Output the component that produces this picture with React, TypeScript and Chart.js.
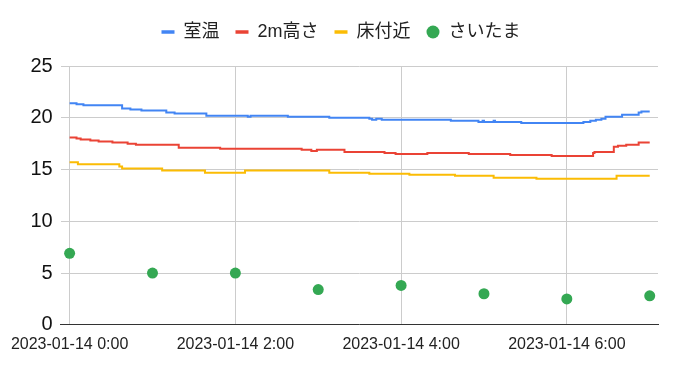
import React, { useEffect, useRef } from "react";
import { Chart, registerables } from "chart.js";

Chart.register(...registerables);

// Minutes after 2023-01-14 0:00 where each step begins, and the value from there on
const roomMin = [0, 5, 10, 38, 44, 52, 70, 76, 99, 129, 131, 158, 188, 217, 219, 222, 226, 276, 296, 299, 300, 307, 308, 327, 372, 377, 381, 385, 388, 400, 412, 414, 420];
const roomVal = [21.4, 21.3, 21.2, 20.9, 20.8, 20.7, 20.5, 20.4, 20.2, 20.1, 20.2, 20.1, 20.0, 19.9, 19.8, 19.9, 19.8, 19.7, 19.6, 19.7, 19.6, 19.7, 19.6, 19.5, 19.6, 19.7, 19.8, 19.9, 20.1, 20.3, 20.5, 20.6, 20.6];

const highMin = [0, 5, 8, 15, 21, 31, 42, 48, 79, 109, 168, 175, 179, 199, 228, 236, 259, 289, 319, 349, 379, 380, 394, 397, 403, 412, 420];
const highVal = [18.1, 18.0, 17.9, 17.8, 17.7, 17.6, 17.5, 17.4, 17.1, 17.0, 16.9, 16.8, 16.9, 16.7, 16.6, 16.5, 16.6, 16.5, 16.4, 16.3, 16.6, 16.7, 17.2, 17.3, 17.4, 17.6, 17.6];

const floorMin = [0, 6, 36, 38, 67, 98, 127, 188, 217, 246, 279, 307, 338, 396, 420];
const floorVal = [15.7, 15.5, 15.3, 15.1, 14.9, 14.7, 14.9, 14.7, 14.6, 14.5, 14.4, 14.2, 14.1, 14.4, 14.4];

const saitamaMin = [0, 60, 120, 180, 240, 300, 360, 420];
const saitamaVal = [6.9, 5.0, 5.0, 3.4, 3.8, 3.0, 2.5, 2.8];

const seriesNames = ["室温", "2m高さ", "床付近", "さいたま"];
const seriesColors = ["#4285F4", "#EA4335", "#FBBC04", "#34A853"];
const xTickMinutes = [0, 120, 240, 360];
const datePrefix = "2023-01-14";
const yTicks = [0, 5, 10, 15, 20, 25];

const FONT = "'Liberation Sans', Arial, 'Noto Sans CJK JP', sans-serif";

const pts = (mins: number[], vals: number[]) => mins.map((m, i) => ({ x: m, y: vals[i] }));

const legendGap = {
  id: "legendGap",
  beforeUpdate(chart: any) {
    const lg = chart.legend;
    if (lg && !lg._gapPatched) {
      const orig = lg.fit;
      lg.fit = function () {
        orig.call(this);
        this.height += 15;
      };
      lg._gapPatched = true;
    }
  },
};

export default function App() {
  const ref = useRef<HTMLCanvasElement | null>(null);

  useEffect(() => {
    document.body.style.margin = "0";
    const canvas = ref.current;
    if (!canvas) return;
    const lineDs = (idx: number, mins: number[], vals: number[]) => ({
      type: "line" as const,
      label: seriesNames[idx],
      data: pts(mins, vals),
      borderColor: seriesColors[idx],
      backgroundColor: seriesColors[idx],
      borderWidth: 2,
      pointRadius: 0,
      stepped: true,
      fill: false,
    });
    const chart = new Chart(canvas, {
      type: "line",
      data: {
        datasets: [
          lineDs(0, roomMin, roomVal),
          lineDs(1, highMin, highVal),
          lineDs(2, floorMin, floorVal),
          {
            type: "line" as const,
            label: seriesNames[3],
            data: pts(saitamaMin, saitamaVal),
            borderColor: seriesColors[3],
            backgroundColor: seriesColors[3],
            showLine: false,
            pointRadius: 5.5,
            pointBorderWidth: 0,
          },
        ],
      },
      plugins: [legendGap],
      options: {
        responsive: false,
        animation: false,
        layout: { padding: { left: 5, top: 7, bottom: 7 } },
        plugins: {
          tooltip: { enabled: false },
          legend: {
            position: "top",
            align: "center",
            labels: {
              usePointStyle: true,
              boxWidth: 13,
              boxHeight: 9.2,
              padding: 16,
              color: "#222",
              font: { family: FONT, size: 18 },
              generateLabels: (ch: any) =>
                ch.data.datasets.map((d: any, i: number) => ({
                  text: d.label,
                  fillStyle: seriesColors[i],
                  strokeStyle: seriesColors[i],
                  lineWidth: i === 3 ? 0 : 3.5,
                  pointStyle: i === 3 ? "circle" : "line",
                  hidden: false,
                  datasetIndex: i,
                  fontColor: "#222",
                })),
            },
          },
        },
        scales: {
          x: {
            type: "linear",
            min: -6.5,
            max: 426,
            afterBuildTicks: (s: any) => {
              s.ticks = xTickMinutes.map((v) => ({ value: v }));
            },
            ticks: {
              color: "#222",
              padding: 10,
              maxRotation: 0,
              autoSkip: false,
              font: { family: FONT, size: 16 },
              callback: (v: any) => `${datePrefix} ${Math.floor(Number(v) / 60)}:00`,
            },
            grid: { color: "#cccccc", drawTicks: false },
            border: { display: true, color: "#333333", width: 1 },
          },
          y: {
            type: "linear",
            min: 0,
            max: 25,
            afterBuildTicks: (s: any) => {
              s.ticks = yTicks.map((v) => ({ value: v }));
            },
            afterFit: (s: any) => {
              s.width = 55;
            },
            ticks: {
              color: "#111",
              padding: 8,
              font: { family: FONT, size: 20 },
            },
            grid: { color: "#cccccc", drawTicks: false },
            border: { display: false },
          },
          yRight: {
            type: "linear",
            position: "right",
            display: true,
            afterFit: (s: any) => {
              s.width = 19;
            },
            ticks: { display: false },
            grid: { display: false, drawTicks: false },
            border: { display: false },
          },
        },
      } as any,
    });
    return () => chart.destroy();
  }, []);

  return (
    <div style={{ position: "absolute", left: 0, top: 0, width: 677, height: 371 }}>
      <canvas ref={ref} width={677} height={371} />
    </div>
  );
}
